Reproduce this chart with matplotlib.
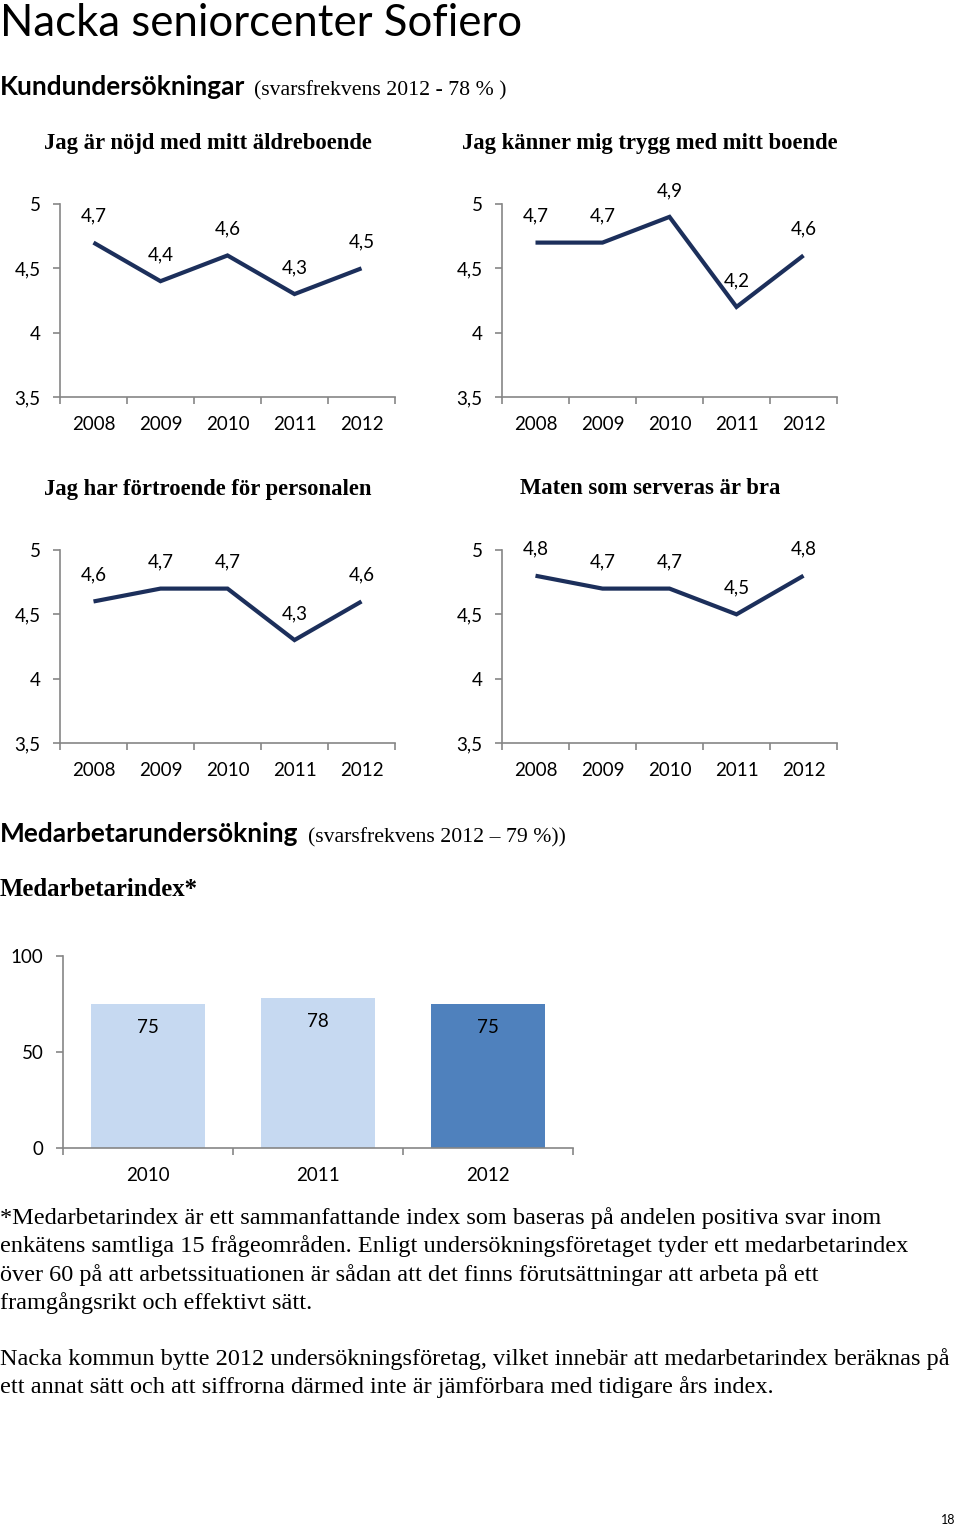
import numpy as np
import matplotlib
matplotlib.use("Agg")
import matplotlib.pyplot as plt

# data
years = ['2008', '2009', '2010', '2011', '2012']
nojd = [4.7, 4.4, 4.6, 4.3, 4.5]
trygg = [4.7, 4.7, 4.9, 4.2, 4.6]
fortroende = [4.6, 4.7, 4.7, 4.3, 4.6]
maten = [4.8, 4.7, 4.7, 4.5, 4.8]
line_yticks = [3.5, 4, 4.5, 5]

index_years = ['2010', '2011', '2012']
index_values = [75, 78, 75]
bar_yticks = [0, 50, 100]

W, H = 960, 1527
navy = '#1c2f5b'
grey = '#868686'
sans = 'Lato'
serif = 'Liberation Serif'

fig = plt.figure(figsize=(W / 100, H / 100), dpi=100)


def px_axes(l, t, r, b):
    return fig.add_axes([l / W, 1 - b / H, (r - l) / W, (b - t) / H])


def px_text(x, y, s, **kw):
    return fig.text(x / W, 1 - y / H, s, **kw)


def comma(v):
    s = ('%g' % v)
    return s.replace('.', ',')


def style_axes(ax, n):
    for side in ['top', 'right']:
        ax.spines[side].set_visible(False)
    for side in ['left', 'bottom']:
        ax.spines[side].set_color(grey)
        ax.spines[side].set_linewidth(1.2)
    ax.set_xlim(-0.5, n - 0.5)
    ax.set_xticks(np.arange(n + 1) - 0.5, minor=True)
    ax.tick_params(axis='x', which='minor', length=5, color=grey, width=1.2)
    ax.tick_params(axis='x', which='major', length=0, pad=14, labelsize=13.5)
    ax.tick_params(axis='y', length=5, color=grey, width=1.2, pad=9, labelsize=13.5)
    for lab in ax.get_xticklabels() + ax.get_yticklabels():
        lab.set_family(sans)


def line_chart(l, t, values, title):
    ax = px_axes(l, t, l + 335, t + 193)
    x = np.arange(len(years))
    ax.plot(x, values, color=navy, lw=3, solid_joinstyle='miter',
            solid_capstyle='butt', clip_on=False)
    for xi, v in zip(x, values):
        ax.annotate(comma(v), (xi, v), xytext=(0, 19), textcoords='offset points',
                    ha='center', va='center', fontsize=13.5, family=sans)
    ax.set_ylim(3.5, 5)
    ax.set_yticks(line_yticks)
    ax.set_yticklabels([comma(v) for v in line_yticks])
    ax.set_xticks(x)
    ax.set_xticklabels(years)
    style_axes(ax, len(years))
    px_text(l + 148, t - 61, title, ha='center', va='center', fontsize=16.3,
            family=serif, weight='bold')
    return ax


# headings
px_text(0, 24, 'Nacka seniorcenter Sofiero', fontsize=31.5, family=sans,
        va='center', ha='left')


def two_part(y, bold_part, rest):
    t1 = px_text(0, y, bold_part, fontsize=18.9, family=sans, weight='bold',
                 va='baseline', ha='left')
    r = fig.canvas.get_renderer()
    bb = t1.get_window_extent(renderer=r)
    px_text(bb.x1 + 9, y, rest, fontsize=15.7, family=serif, va='baseline', ha='left')


two_part(95, 'Kundundersökningar', '(svarsfrekvens 2012 - 78 % )')

line_chart(60, 204, nojd, 'Jag är nöjd med mitt äldreboende')
line_chart(502, 204, trygg, 'Jag känner mig trygg med mitt boende')
line_chart(60, 550, fortroende, 'Jag har förtroende för personalen')
line_chart(502, 550, maten, 'Maten som serveras är bra')

two_part(842, 'Medarbetarundersökning', '(svarsfrekvens 2012 – 79 %))')
px_text(0, 890, 'Medarbetarindex*', fontsize=17.8, family=serif, weight='bold',
        va='center', ha='left')

# bar chart
ax = px_axes(63, 956, 573, 1148)
xb = np.arange(len(index_years))
colors = ['#c6d9f1', '#c6d9f1', '#4f81bd']
bars = ax.bar(xb, index_values, width=0.67, color=colors)
for xi, v in zip(xb, index_values):
    ax.annotate(str(v), (xi, v), xytext=(0, -17), textcoords='offset points',
                ha='center', va='center', fontsize=13.5, family=sans)
ax.set_ylim(0, 100)
ax.set_yticks(bar_yticks)
ax.set_yticklabels([str(v) for v in bar_yticks])
ax.set_xticks(xb)
ax.set_xticklabels(index_years)
style_axes(ax, len(index_years))

# paragraphs
para1 = ['*Medarbetarindex är ett sammanfattande index som baseras på andelen positiva svar inom',
         'enkätens samtliga 15 frågeområden. Enligt undersökningsföretaget tyder ett medarbetarindex',
         'över 60 på att arbetssituationen är sådan att det finns förutsättningar att arbeta på ett',
         'framgångsrikt och effektivt sätt.']
para2 = ['Nacka kommun bytte 2012 undersökningsföretag, vilket innebär att medarbetarindex beräknas på',
         'ett annat sätt och att siffrorna därmed inte är jämförbara med tidigare års index.']
for i, line in enumerate(para1):
    px_text(0, 1218 + 28.3 * i, line, fontsize=17.5, family=serif, va='center', ha='left')
for i, line in enumerate(para2):
    px_text(0, 1359 + 28.3 * i, line, fontsize=17.5, family=serif, va='center', ha='left')

px_text(948, 1520, '18', fontsize=9, family=sans, va='center', ha='center')

fig.savefig('out.png', dpi=100)
